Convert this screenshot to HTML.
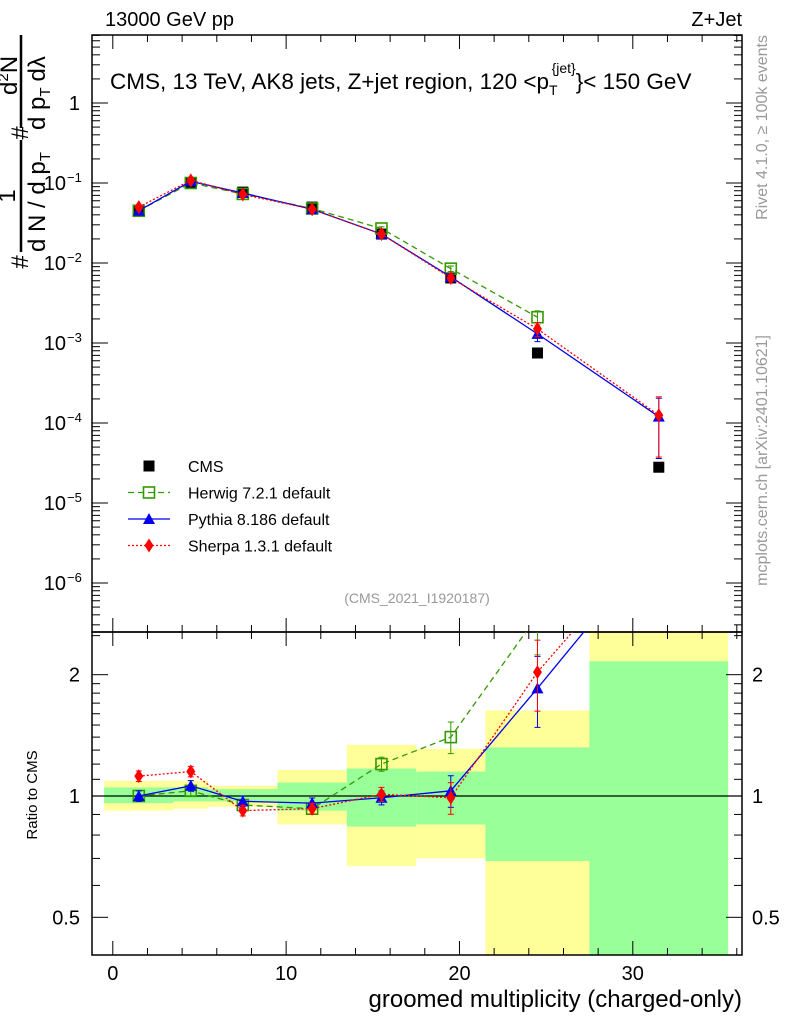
<!DOCTYPE html>
<html><head><meta charset="utf-8"><style>
body{margin:0;background:#fff;}
svg{display:block;font-family:"Liberation Sans",sans-serif;}
</style></head><body>
<svg id="c" width="786" height="1024" xmlns="http://www.w3.org/2000/svg"></svg>
<script>
const xCenters=[1.5,4.5,7.5,11.5,15.5,19.5,24.5,31.5];
const binEdges=[-0.5,3.5,5.5,9.5,13.5,17.5,21.5,27.5,35.5];
const cmsVals=[0.045,0.1,0.077,0.05,0.023,0.0065,0.00075,2.8e-5];
const herwigVals=[0.045,0.1,0.073,0.048,0.027,0.0085,0.0021,null];
const pythiaVals=[0.045,0.105,0.075,0.047,0.023,0.0067,0.0013,1.2e-4];
const sherpaVals=[0.05,0.108,0.072,0.047,0.023,0.0065,0.0015,1.25e-4];
const mcRelErr=[0.04,0.04,0.04,0.04,0.05,0.08,0.2,0.7];
const ratioRelErr=[0.03,0.03,0.03,0.03,0.04,0.09,0.2,0.3];
const herwigRatio=[1.0,1.03,0.95,0.93,1.2,1.4,2.8,null];
const pythiaRatio=[1.0,1.06,0.97,0.96,0.99,1.03,1.85,4.3];
const sherpaRatio=[1.12,1.15,0.92,0.93,1.01,0.99,2.03,4.5];
const greenLo=[0.96,0.97,0.97,0.92,0.84,0.85,0.69,0.3];
const greenHi=[1.05,1.05,1.04,1.08,1.17,1.15,1.32,2.16];
const yellowLo=[0.92,0.93,0.94,0.85,0.67,0.70,0.3,0.3];
const yellowHi=[1.09,1.09,1.06,1.16,1.34,1.31,1.63,3.0];
const xTicks=[0,10,20,30];
const topTickExp=[0,-1,-2,-3,-4,-5,-6];
const ratioTicks=[0.5,1,2];

const NS="http://www.w3.org/2000/svg";
const svg=document.getElementById('c');
const L=92,R=742,T1=35,B1=632,T2=632,B2=955;
const X=v=>L+(v+1.2)/(37.5)*(R-L);
const Y1=v=>103-80*Math.log10(v);
const Y2=v=>796-403*Math.log10(v);
function el(tag,attrs,parent){const e=document.createElementNS(NS,tag);for(const k in attrs)e.setAttribute(k,attrs[k]);(parent||svg).appendChild(e);return e;}
function txt(s,attrs,parent){const e=el('text',attrs,parent);e.textContent=s;return e;}

const defs=el('defs',{});
const c1=el('clipPath',{id:'cp1'},defs);el('rect',{x:L,y:T1,width:R-L,height:B1-T1},c1);
const c2=el('clipPath',{id:'cp2'},defs);el('rect',{x:L,y:T2,width:R-L,height:B2-T2},c2);

const bands=el('g',{'clip-path':'url(#cp2)'});


for(let i=0;i<xCenters.length;i++){
  const x0=X(binEdges[i]),x1=X(binEdges[i+1]);
  const ry=el('rect',{x:x0,y:Y2(yellowHi[i]),width:x1-x0,height:Y2(yellowLo[i])-Y2(yellowHi[i]),fill:'#ffff99'},bands);
  
  
  const rg=el('rect',{x:x0,y:Y2(greenHi[i]),width:x1-x0,height:Y2(greenLo[i])-Y2(greenHi[i]),fill:'#99ff99'},bands);
  
  
}
el('line',{x1:L,x2:R,y1:Y2(1),y2:Y2(1),stroke:'#000','stroke-width':1.2});

el('rect',{x:L,y:T1,width:R-L,height:B1-T1,fill:'none',stroke:'#000','stroke-width':1.5});
el('rect',{x:L,y:T2,width:R-L,height:B2-T2,fill:'none',stroke:'#000','stroke-width':1.5});

for(let v=0;v<=36;v+=2){
  const maj=v%10===0,len=maj?14:7,x=X(v);
  [[B1,-1],[T1,1],[B2,-1],[T2,1]].forEach(([y,d])=>el('line',{x1:x,x2:x,y1:y,y2:y+d*len,stroke:'#000'}));
}
xTicks.forEach(v=>{const t=txt(String(v),{x:X(v),y:980,'font-size':20,'text-anchor':'middle'});
});

for(let e=1;e>=-7;e--){
  for(let m=1;m<10;m++){
    const v=m*Math.pow(10,e),y=Y1(v);if(y<T1||y>B1)continue;
    const len=m===1?16:8;
    el('line',{x1:L,x2:L+len,y1:y,y2:y,stroke:'#000'});
    el('line',{x1:R,x2:R-len,y1:y,y2:y,stroke:'#000'});
  }
}
topTickExp.forEach(e=>{
  const y=Y1(Math.pow(10,e));
  let t;
  if(e===0){t=txt('1',{x:80,y:y+7,'font-size':20,'text-anchor':'end'});}
  else{t=txt('10',{x:66,y:y+7,'font-size':20,'text-anchor':'end'});
    const s=el('tspan',{x:67,dy:-8,'font-size':13},t);s.textContent='\u2212'+(-e);s.setAttribute('text-anchor','start');}
  
});

for(let v=0.4;v<=2.55;v+=(v<2-1e-9?0.1:0.5)){
  const y=Y2(v);if(y<T2||y>B2)continue;
  const maj=[0.5,1,2].some(m=>Math.abs(m-v)<1e-6),len=maj?16:8;
  el('line',{x1:L,x2:L+len,y1:y,y2:y,stroke:'#000'});
  el('line',{x1:R,x2:R-len,y1:y,y2:y,stroke:'#000'});
}
ratioTicks.forEach(v=>{
  const y=Y2(v)+7,s=String(v);
  const a=txt(s,{x:80,y:y,'font-size':20,'text-anchor':'end'});
  
  const b=txt(s,{x:752,y:y,'font-size':20});
  
});

function marker(type,x,y,col,g){
  if(type==='sq')return el('rect',{x:x-5.5,y:y-5.5,width:11,height:11,fill:'#000'},g);
  if(type==='osq')return el('rect',{x:x-5.5,y:y-5.5,width:11,height:11,fill:'none',stroke:col,'stroke-width':1.6},g);
  if(type==='tri')return el('polygon',{points:`${x},${y-6} ${x-6},${y+5} ${x+6},${y+5}`,fill:col},g);
  if(type==='dia')return el('polygon',{points:`${x},${y-7} ${x-4.5},${y} ${x},${y+7} ${x+4.5},${y}`,fill:col},g);
}
const series=[
 {name:'herwig',vals:herwigVals,ratio:herwigRatio,col:'#339900',dash:'6,4',m:'osq'},
 {name:'pythia',vals:pythiaVals,ratio:pythiaRatio,col:'#0000ee',dash:'',m:'tri'},
 {name:'sherpa',vals:sherpaVals,ratio:sherpaRatio,col:'#ff0000',dash:'2,2',m:'dia'}];

const gc=el('g',{'clip-path':'url(#cp1)'});

cmsVals.forEach((v,i)=>marker('sq',X(xCenters[i]),Y1(v),'#000',gc));

function drawSeries(vals,err,Yf,s,g){
  const pts=[];vals.forEach((v,i)=>{if(v!=null)pts.push(X(xCenters[i])+','+Yf(v));});
  el('polyline',{points:pts.join(' '),fill:'none',stroke:s.col,'stroke-width':1.3,'stroke-dasharray':s.dash},g);
  vals.forEach((v,i)=>{if(v==null)return;const x=X(xCenters[i]);
    const lo=Yf(v*(1-Math.min(err[i],0.72))),hi=Yf(v*(1+err[i]));
    el('line',{x1:x,x2:x,y1:lo,y2:hi,stroke:s.col},g);
    el('line',{x1:x-3,x2:x+3,y1:lo,y2:lo,stroke:s.col},g);el('line',{x1:x-3,x2:x+3,y1:hi,y2:hi,stroke:s.col},g);
    marker(s.m,x,Yf(v),s.col,g);});
}
series.forEach(s=>{
  const g=el('g',{'clip-path':'url(#cp1)'});
  
  drawSeries(s.vals,mcRelErr,Y1,s,g);
  const g2=el('g',{'clip-path':'url(#cp2)'});
  
  drawSeries(s.ratio,ratioRelErr,Y2,s,g2);
});

const lg=el('g',{});
const legItems=[['CMS','sq','#000',''],['Herwig 7.2.1 default','osq','#339900','6,4'],['Pythia 8.186 default','tri','#0000ee',''],['Sherpa 1.3.1 default','dia','#ff0000','2,2']];
legItems.forEach((it,i)=>{
  const y=466+i*26.5;
  const g=el('g',{},lg);
  if(i>0)el('line',{x1:128,x2:170,y1:y,y2:y,stroke:it[2],'stroke-width':1.3,'stroke-dasharray':it[3]},g);
  marker(it[1],149,y,it[2],g);
  txt(it[0],{x:188,y:y+6,'font-size':16},g);
});

let t;
t=txt('13000 GeV pp',{x:105,y:26,'font-size':20});
t=txt('Z+Jet',{x:742,y:26,'font-size':20,'text-anchor':'end'});
t=txt('',{x:110,y:89,'font-size':22.5});
t.innerHTML='CMS, 13 TeV, AK8 jets, Z+jet region, 120 &lt;p<tspan dy="6" font-size="14">T</tspan><tspan dy="-22" dx="-6" font-size="14">{jet}</tspan><tspan dy="16">}&lt; 150 GeV</tspan>';
t=txt('(CMS_2021_I1920187)',{x:417,y:603,'font-size':14,fill:'#999','text-anchor':'middle'});
t=txt('Rivet 4.1.0, \u2265 100k events',{x:0,y:0,'font-size':16,fill:'#999','text-anchor':'end',transform:'translate(767,35) rotate(-90)'});
t=txt('mcplots.cern.ch [arXiv:2401.10621]',{x:0,y:0,'font-size':16,fill:'#999','text-anchor':'end',transform:'translate(767,335) rotate(-90)'});
t=txt('Ratio to CMS',{x:0,y:0,'font-size':15,'text-anchor':'middle',transform:'translate(37,795) rotate(-90)'});
t=txt('groomed multiplicity (charged-only)',{x:742,y:1007,'font-size':24,'text-anchor':'end'});

const yt=el('g',{});
el('line',{x1:21,x2:21,y1:140,y2:252,stroke:'#000','stroke-width':2.5},yt);
el('line',{x1:21,x2:21,y1:35,y2:128,stroke:'#000','stroke-width':2.5},yt);
txt('1',{x:0,y:0,'font-size':24,'text-anchor':'middle',transform:'translate(15,196) rotate(-90)'},yt);
txt('#',{x:0,y:0,'font-size':24,'text-anchor':'middle',transform:'translate(28,262) rotate(-90)'},yt);
txt('#',{x:0,y:0,'font-size':24,'text-anchor':'middle',transform:'translate(28,133) rotate(-90)'},yt);
const d1=txt('',{x:0,y:0,'font-size':24,transform:'translate(45,252) rotate(-90)'},yt);
d1.innerHTML='d N / d p<tspan dy="5" font-size="15">T</tspan>';
const n2=txt('',{x:0,y:0,'font-size':24,transform:'translate(17,95) rotate(-90)'},yt);
n2.innerHTML='d<tspan dy="-9" font-size="15">2</tspan><tspan dy="9">N</tspan>';
const d2=txt('',{x:0,y:0,'font-size':24,transform:'translate(45,130) rotate(-90)'},yt);
d2.innerHTML='d p<tspan dy="5" font-size="15">T</tspan><tspan dy="-5" dx="6">d\u03bb</tspan>';
</script>
</body></html>
